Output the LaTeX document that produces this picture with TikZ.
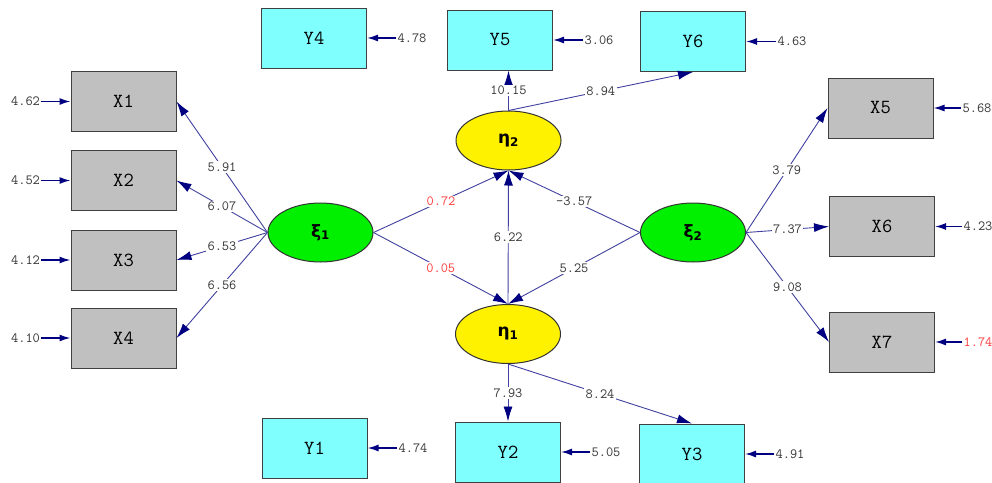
\documentclass[tikz,border=0pt]{standalone}
\usepackage{fontspec}
\usepackage{tikz}
\usetikzlibrary{arrows.meta}
\usetikzlibrary{shapes.geometric}
\usetikzlibrary{positioning}
\newfontfamily\greekfont{DejaVu Sans}
\definecolor{box_gray}{HTML}{C0C0C0}
\definecolor{box_cyan}{HTML}{80FFFF}
\definecolor{xi_green}{HTML}{00F000}
\definecolor{eta_yellow}{HTML}{FFF200}
\definecolor{path_blue}{HTML}{000080}
\definecolor{coef_red}{HTML}{FF3A3A}
\tikzstyle{obs_box}=[rectangle, draw=black!75, line width=1pt, minimum width=105pt, minimum height=60pt, font=\fontsize{20}{20}\ttfamily]
\tikzstyle{obs_x}=[obs_box, fill=box_gray]
\tikzstyle{obs_y}=[obs_box, fill=box_cyan]
\tikzstyle{latent}=[ellipse, draw=black!80, line width=1pt, inner sep=0pt, minimum width=105pt, minimum height=59pt, font=\fontsize{17}{17}\greekfont\bfseries]
\tikzstyle{lat_xi}=[latent, fill=xi_green]
\tikzstyle{lat_eta}=[latent, fill=eta_yellow]
\tikzstyle{err_lbl}=[inner sep=1pt, font=\fontsize{14}{14}\ttfamily, text=black!80]
\tikzstyle{err_lbl_bad}=[err_lbl, text=coef_red]
\tikzstyle{coef}=[fill=white, inner sep=1.5pt, font=\fontsize{14}{14}\ttfamily, text=black!80]
\tikzstyle{coef_bad}=[coef, text=coef_red]
\tikzstyle{path_arrow}=[draw=path_blue!75, line width=0.9pt, -{Latex[length=15pt, width=9pt, color=path_blue]}]
\tikzstyle{err_arrow}=[draw=path_blue, line width=1.5pt, -{Latex[length=11pt, width=7pt]}]
\begin{document}
\begin{tikzpicture}[x=1pt, y=-1pt]
\useasboundingbox (0,0) rectangle (992,482);
\node[obs_x] (x1) at (123.5,101.5){X1};
\node[obs_x] (x2) at (123.5,180.5){X2};
\node[obs_x] (x3) at (123.5,260){X3};
\node[obs_x] (x4) at (123.5,338){X4};
\node[obs_x] (x5) at (880.5,108){X5};
\node[obs_x] (x6) at (882,226.5){X6};
\node[obs_x] (x7) at (882,342){X7};
\node[obs_y] (y1) at (314.5,448){Y1};
\node[obs_y] (y2) at (508,452){Y2};
\node[obs_y] (y3) at (692,454){Y3};
\node[obs_y] (y4) at (314,38){Y4};
\node[obs_y] (y5) at (500,40){Y5};
\node[obs_y] (y6) at (693,41.5){Y6};
\node[lat_xi] (xi1) at (320.5,232.5){ξ\textsubscript{1}};
\node[lat_xi] (xi2) at (693,232.5){ξ\textsubscript{2}};
\node[lat_eta] (eta2) at (508.5,140.5){η\textsubscript{2}};
\node[lat_eta] (eta1) at (508,334){η\textsubscript{1}};
\node[err_lbl] (ex1) at (25.5,101.5){4.62};
\node[err_lbl] (ex2) at (25.5,180.5){4.52};
\node[err_lbl] (ex3) at (25.5,260){4.12};
\node[err_lbl] (ex4) at (25.5,338){4.10};
\node[err_lbl] (ex5) at (977,108){5.68};
\node[err_lbl] (ex6) at (978,226.5){4.23};
\node[err_lbl_bad] (ex7) at (978,342){1.74};
\node[err_lbl] (ey1) at (413,448){4.74};
\node[err_lbl] (ey2) at (606,452){5.05};
\node[err_lbl] (ey3) at (790,454){4.91};
\node[err_lbl] (ey4) at (412,38){4.78};
\node[err_lbl] (ey5) at (599,40){3.06};
\node[err_lbl] (ey6) at (792,41.5){4.63};
\draw[err_arrow](ex1) -- (x1);
\draw[err_arrow](ex2) -- (x2);
\draw[err_arrow](ex3) -- (x3);
\draw[err_arrow](ex4) -- (x4);
\draw[err_arrow](ex5) -- (x5);
\draw[err_arrow](ex6) -- (x6);
\draw[err_arrow](ex7) -- (x7);
\draw[err_arrow](ey1) -- (y1);
\draw[err_arrow](ey2) -- (y2);
\draw[err_arrow](ey3) -- (y3);
\draw[err_arrow](ey4) -- (y4);
\draw[err_arrow](ey5) -- (y5);
\draw[err_arrow](ey6) -- (y6);
\draw[path_arrow](xi1.west) -- node[coef]{5.91} (x1.east);
\draw[path_arrow](xi1.west) -- node[coef]{6.07} (x2.east);
\draw[path_arrow](xi1.west) -- node[coef]{6.53} (x3.east);
\draw[path_arrow](xi1.west) -- node[coef]{6.56} (x4.east);
\draw[path_arrow](xi2.east) -- node[coef]{3.79} (x5.west);
\draw[path_arrow](xi2.east) -- node[coef]{7.37} (x6.west);
\draw[path_arrow](xi2.east) -- node[coef]{9.08} (x7.west);
\draw[path_arrow](xi1.east) -- node[coef_bad]{0.72} (eta2.south);
\draw[path_arrow](xi1.east) -- node[coef_bad]{0.05} (eta1.north);
\draw[path_arrow](xi2.west) -- node[coef]{-3.57} (eta2.south);
\draw[path_arrow](xi2.west) -- node[coef]{5.25} (eta1.north);
\draw[path_arrow](eta1.north) -- node[coef]{6.22} (eta2.south);
\draw[path_arrow](eta2.north) -- node[coef]{10.15} (eta2.north |- y5.south);
\draw[path_arrow](eta2.north) -- node[coef]{8.94} (y6.south);
\draw[path_arrow](eta1.south) -- node[coef]{7.93} (y2.north);
\draw[path_arrow](eta1.south) -- node[coef]{8.24} (y3.north);
\end{tikzpicture}
\end{document}
